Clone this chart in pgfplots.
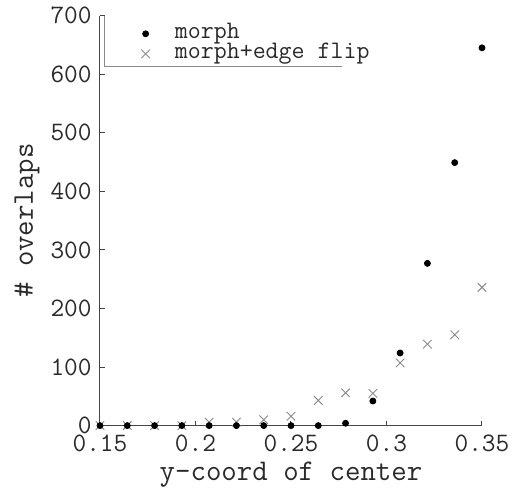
\documentclass[border=0pt]{standalone}
\usepackage{fontspec}
\usepackage{pgfplots}
\pgfplotsset{compat=1.18}
\usepackage{pgfplotstable}
\definecolor{axgray}{HTML}{444444}
\definecolor{txtgray}{HTML}{2A2A2A}
\definecolor{crossgray}{HTML}{8A8A8A}
\pgfplotstableread{
x        morph  flip
0.150000 0   0
0.164286 0   0
0.178571 0   0
0.192857 0   0
0.207143 0   6
0.221429 0   6
0.235714 0   10
0.250000 0   16
0.264286 0   43
0.278571 4   56
0.292857 42  55
0.307143 124 107
0.321429 277 139
0.335714 449 155
0.350000 645 236
}\datatable
\begin{document}
\begin{tikzpicture}
\begin{axis}[
  scale only axis,
  width=191pt, height=205pt,
  xmin=0.15, xmax=0.35, ymin=0, ymax=700,
  axis lines=left,
  axis line style={-, axgray, line width=0.5pt},
  tick style={axgray, line width=0.5pt},
  tick align=inside,
  major tick length=2.5pt,
  xtick={0.15,0.2,0.25,0.3,0.35},
  xticklabels={0.15,0.2,0.25,0.3,0.35},
  ytick={0,100,200,300,400,500,600,700},
  /pgf/number format/assume math mode=true,
  ticklabel style={font=\ttfamily\fontsize{13.3}{14}\selectfont, text=txtgray},
  xticklabel style={anchor=base, yshift=-12.9pt},
  yticklabel style={inner sep=2pt, xshift=-2pt},
  xlabel={y-coord of center},
  ylabel={\# overlaps},
  label style={font=\ttfamily\fontsize{15}{16}\selectfont, text=txtgray},
  xlabel style={at={(axis description cs:0.5,0)}, anchor=base, yshift=-27.2pt},
  ylabel style={at={(axis description cs:-0.191,0.5)}, anchor=center},
  clip=false,
  reverse legend,
  legend cell align=left,
  legend style={
    at={(rel axis cs:0.0105,1)}, anchor=north west,
    draw=none, fill=none,
    inner xsep=18.5pt, inner ysep=3.9pt,
    row sep=0pt, column sep=12pt,
    font=\ttfamily\fontsize{12.6}{13}\selectfont,
    text=txtgray,
    nodes={inner sep=0.5pt, text height=7pt, text depth=2pt},
  },
]
\addplot[only marks, mark=x, mark size=3pt, draw=crossgray, mark options={line width=0.45pt, draw=crossgray}] table[x=x, y=flip] {\datatable};
\addlegendentry{morph+edge flip}
\addplot[only marks, mark=*, mark size=1.5pt, black, mark options={fill=black}] table[x=x, y=morph] {\datatable};
\addlegendentry{morph}
\draw[crossgray, line width=0.5pt] (rel axis cs:0.0105,1) -- (rel axis cs:0.0105,0.877) -- (rel axis cs:0.6335,0.877);
\end{axis}
\pgfresetboundingbox
\path[use as bounding box] (-50pt,-31.2pt) rectangle (210.5pt,212.8pt);
\end{tikzpicture}
\end{document}
